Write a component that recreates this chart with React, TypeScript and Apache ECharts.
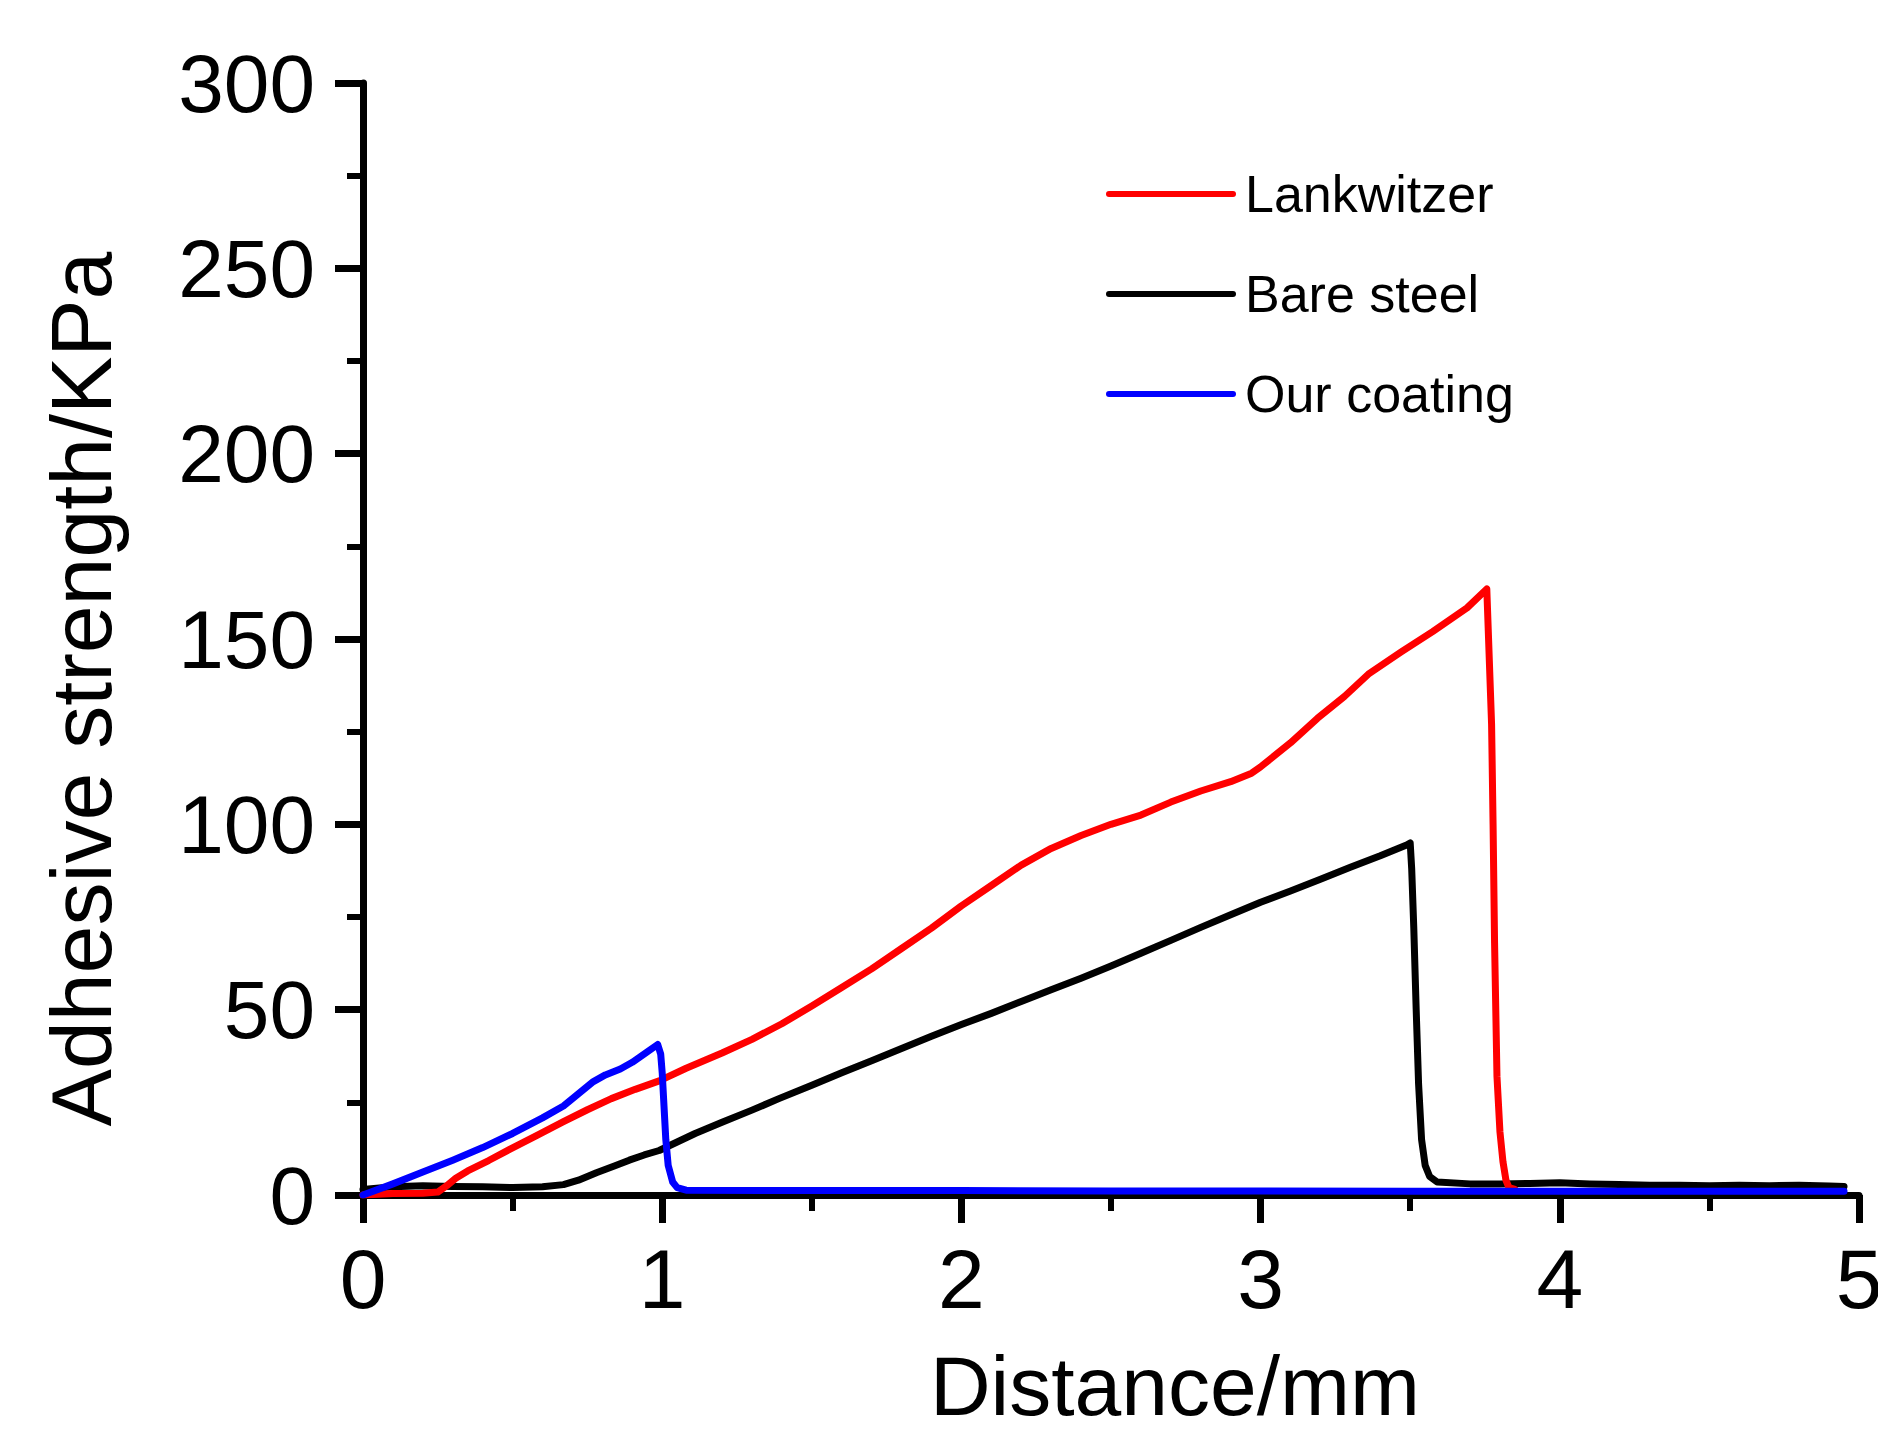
import React, { useEffect, useRef } from "react";
import * as echarts from "echarts";

// ---------- data ----------
const seriesNames = ["Lankwitzer", "Bare steel", "Our coating"];
const seriesColors = ["#ff0000", "#000000", "#0000ff"];

const xTitle = "Distance/mm";
const yTitle = "Adhesive strength/KPa";

const xMin = 0;
const xMax = 5;
const xStep = 1;
const yMin = 0;
const yMax = 300;
const yStep = 50;

// Lankwitzer (red): [distance mm, strength KPa]
const lankwitzer: number[][] = [
  [0, 0], [0.1, 0.4], [0.2, 0.5], [0.25, 0.8], [0.28, 2.5], [0.31, 4.5],
  [0.35, 6.5], [0.42, 9.3], [0.49, 12.3], [0.58, 16], [0.67, 19.8],
  [0.75, 23], [0.83, 26], [0.91, 28.5], [0.99, 30.8], [1.08, 34.2],
  [1.2, 38.3], [1.3, 42], [1.4, 46.2], [1.5, 51], [1.6, 56], [1.7, 61],
  [1.8, 66.5], [1.9, 72], [2.0, 78], [2.1, 83.5], [2.2, 89], [2.3, 93.5],
  [2.4, 97], [2.5, 100], [2.6, 102.5], [2.7, 106], [2.8, 109],
  [2.9, 111.5], [2.97, 113.8], [3.0, 115.5], [3.1, 122], [3.19, 128.6],
  [3.28, 134.5], [3.36, 140.5], [3.47, 146.5], [3.575, 152], [3.69, 158.4],
  [3.756, 163.5], [3.772, 127], [3.777, 100], [3.782, 68], [3.79, 32],
  [3.8, 17], [3.81, 9], [3.82, 4], [3.83, 2], [3.85, 1.5],
];

// Bare steel (black)
const bareSteel: number[][] = [
  [0, 1.5], [0.1, 2.2], [0.2, 2.5], [0.3, 2.3], [0.4, 2.2], [0.5, 2.0],
  [0.6, 2.2], [0.67, 2.8], [0.72, 4], [0.78, 6], [0.84, 7.8], [0.89, 9.4],
  [0.94, 10.8], [0.99, 12], [1.05, 14.3], [1.11, 16.6], [1.2, 19.6],
  [1.3, 22.9], [1.39, 26], [1.5, 29.6], [1.6, 33], [1.7, 36.2], [1.8, 39.5],
  [1.9, 42.8], [2.0, 46], [2.1, 49], [2.2, 52.2], [2.3, 55.4], [2.4, 58.5],
  [2.5, 61.8], [2.6, 65.2], [2.7, 68.7], [2.8, 72.2], [2.9, 75.6], [3.0, 79],
  [3.1, 82], [3.2, 85.2], [3.3, 88.4], [3.4, 91.5], [3.49, 94.5], [3.5, 95],
  [3.505, 88], [3.512, 72], [3.52, 50], [3.528, 30], [3.538, 15], [3.55, 8],
  [3.565, 5], [3.59, 3.5], [3.7, 3], [3.8, 3], [3.9, 3.1], [4.0, 3.3],
  [4.1, 3], [4.2, 2.8], [4.3, 2.6], [4.4, 2.6], [4.5, 2.5], [4.6, 2.6],
  [4.7, 2.5], [4.8, 2.6], [4.9, 2.4], [4.95, 2.3],
];

// Our coating (blue)
const ourCoating: number[][] = [
  [0, 0], [0.1, 3], [0.2, 6.2], [0.3, 9.4], [0.4, 12.8], [0.5, 16.6],
  [0.6, 20.8], [0.67, 24], [0.72, 27.3], [0.77, 30.6], [0.81, 32.4],
  [0.86, 34], [0.9, 35.8], [0.95, 38.6], [0.985, 40.6], [0.995, 38],
  [1.0, 33], [1.006, 24], [1.012, 15], [1.02, 8], [1.035, 3.5], [1.05, 2],
  [1.08, 1.3], [1.5, 1.2], [2.0, 1.2], [2.5, 1.1], [3.0, 1.1], [3.5, 1.0],
  [4.0, 1.0], [4.5, 1.0], [4.95, 1.0],
];

const seriesData = [lankwitzer, bareSteel, ourCoating];
const seriesZ = [3, 2, 4];

const FONT = '"Liberation Sans", Arial, Helvetica, sans-serif';

export default function App() {
  const ref = useRef<HTMLDivElement>(null);

  useEffect(() => {
    if (!ref.current) return;
    const chart = echarts.init(ref.current, undefined, { renderer: "svg" });

    const axisCommon = {
      axisLine: { show: true, lineStyle: { color: "#000", width: 7 } },
      axisTick: { show: true, inside: false, length: 28, lineStyle: { color: "#000", width: 7 } },
      minorTick: { show: true, splitNumber: 2, length: 16, lineStyle: { color: "#000", width: 6 } },
      splitLine: { show: false },
      minorSplitLine: { show: false },
    };

    chart.setOption({
      animation: false,
      backgroundColor: "#ffffff",
      grid: {
        left: 363,
        right: 19,
        top: 83,
        bottom: 240,
        containLabel: false,
        outerBoundsMode: "none",
      },
      xAxis: {
        type: "value",
        min: xMin,
        max: xMax,
        interval: xStep,
        ...axisCommon,
        axisLabel: {
          show: true,
          color: "#000",
          fontSize: 84,
          fontFamily: FONT,
          margin: 42,
          showMaxLabel: true,
          showMinLabel: true,
        },
      },
      yAxis: {
        type: "value",
        min: yMin,
        max: yMax,
        interval: yStep,
        ...axisCommon,
        axisLabel: {
          show: true,
          color: "#000",
          fontSize: 82,
          fontFamily: FONT,
          margin: 48,
        },
      },
      legend: {
        show: true,
        orient: "vertical",
        left: 1101,
        top: 163,
        padding: 5,
        itemWidth: 124,
        itemHeight: 50,
        itemGap: 48,
        data: seriesNames,
        itemStyle: { opacity: 0 },
        lineStyle: { width: 6, cap: "round" },
        textStyle: {
          color: "#000",
          fontSize: 52,
          fontFamily: FONT,
          lineHeight: 50,
          padding: [0, 0, 0, 7],
        },
      },
      graphic: [
        {
          type: "text",
          x: 1175,
          y: 1386,
          style: {
            text: xTitle,
            fill: "#000",
            fontSize: 84,
            fontFamily: FONT,
            lineHeight: 80,
            align: "center",
            verticalAlign: "middle",
          },
        },
        {
          type: "text",
          x: 81,
          y: 689,
          rotation: Math.PI / 2,
          style: {
            text: yTitle,
            fill: "#000",
            fontSize: 86,
            fontFamily: FONT,
            align: "center",
            verticalAlign: "middle",
          },
        },
      ],
      series: seriesNames.map((name, i) => ({
        name,
        type: "line",
        data: seriesData[i],
        symbol: "none",
        showSymbol: false,
        smooth: false,
        z: seriesZ[i],
        color: seriesColors[i],
        lineStyle: { color: seriesColors[i], width: 7, cap: "round", join: "round" },
      })),
    });

    return () => {
      chart.dispose();
    };
  }, []);

  return (
    <div
      ref={ref}
      style={{ position: "absolute", left: 0, top: 0, width: 1878, height: 1435, background: "#fff" }}
    />
  );
}
